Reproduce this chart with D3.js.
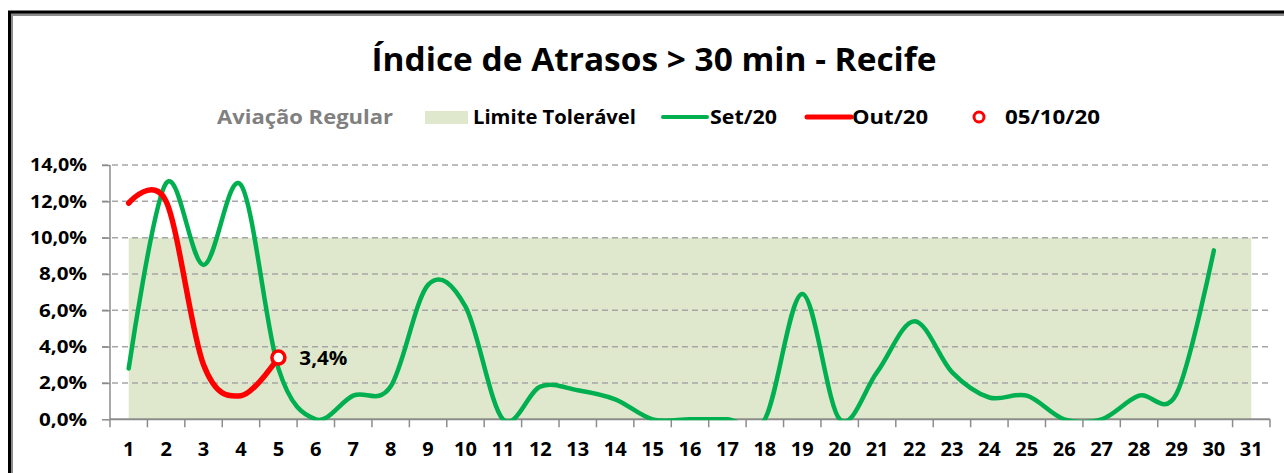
<!DOCTYPE html>
<html><head><meta charset="utf-8">
<script src="https://cdn.jsdelivr.net/npm/d3@7"></script>
<style>
html,body{margin:0;padding:0;background:#fff;}
svg{display:block;font-family:"Open Sans","Noto Sans",sans-serif;}
</style></head>
<body><svg id="c" width="1284" height="473"></svg>
<script>
const days = d3.range(1, 32);
const dayLabels = days.map(String);
const setValues = [2.8, 13.0, 8.5, 12.9, 2.8, 0.0, 1.3, 1.8, 7.4, 6.2, 0.0, 1.8, 1.6, 1.1, 0.0, 0.0, 0.0, 0.0, 6.9, 0.0, 2.6, 5.4, 2.6, 1.2, 1.3, 0.0, 0.0, 1.3, 1.4, 9.3, null];
const outValues = [11.9, 12.0, 3.0, 1.3, 3.4];
const limitValue = 10;
const yTicks = [0, 2, 4, 6, 8, 10, 12, 14];
const highlightDay = 5;
const highlightValue = 3.4;

const svg = d3.select("#c");
const W = 1284, H = 473;
const m = {left: 110, right: 1270, top: 165, bottom: 419.3};

// frame
svg.append("path").attr("d", `M11.5,${H+5} L11.5,14.5 L${W+5},14.5`).attr("fill","none").attr("stroke","#8c8c8c").attr("stroke-width",3);
svg.append("path").attr("d", `M9.5,${H+5} L9.5,12 L${W+5},12`).attr("fill","none").attr("stroke","#000").attr("stroke-width",3);

const x = d3.scaleBand().domain(dayLabels).range([m.left, m.right]).paddingInner(0).paddingOuter(0);
const cx = d => x(String(d)) + x.bandwidth()/2;
const y = d3.scaleLinear().domain([0, 14]).range([m.bottom, m.top]);

// title
svg.append("text").attr("x", 654).attr("y", 71).attr("text-anchor","middle")
  .attr("font-size", 32).attr("font-weight", 700).attr("fill","#000")
  .attr("textLength", 565).attr("lengthAdjust","spacingAndGlyphs")
  .text("Índice de Atrasos > 30 min - Recife");

// limit area
const area = d3.area().x(d => cx(d)).y0(y(0)).y1(y(limitValue));
svg.append("path").datum(days).attr("d", area).attr("fill", "#dfe8cc");

// gridlines
svg.append("g").selectAll("line").data(yTicks.filter(t => t > 0)).join("line")
  .attr("x1", 102).attr("x2", m.right).attr("y1", d => y(d)).attr("y2", d => y(d))
  .attr("stroke", "#a6a6a6").attr("stroke-width", 1.5).attr("stroke-dasharray", "6,4");

// y axis
const yAxis = d3.axisLeft(y).tickValues(yTicks).tickSize(8).tickPadding(15)
  .tickFormat(d => d3.format(".1f")(d).replace(".", ",") + "%");
const gy = svg.append("g").attr("transform", `translate(${m.left},0)`).call(yAxis);
gy.select(".domain").attr("stroke", "#8c8c8c").attr("stroke-width", 1.5).attr("d", `M0,${m.bottom}V${m.top}`);
gy.selectAll(".tick line").attr("stroke", "#8c8c8c").attr("stroke-width", 1.5);
gy.selectAll(".tick text").attr("font-size", 18.5).attr("font-weight", 700).attr("fill", "#000")
  .attr("font-family", "'Open Sans',sans-serif").attr("textLength", 57).attr("lengthAdjust","spacingAndGlyphs");
gy.selectAll(".tick").filter(d => d < 10).selectAll("text").attr("textLength", 48);

// x axis
const xAxis = d3.axisBottom(x).tickSize(0).tickPadding(23);
const gx = svg.append("g").attr("transform", `translate(0,${m.bottom})`).call(xAxis);
gx.select(".domain").attr("stroke", "#8c8c8c").attr("stroke-width", 2).attr("d", `M${m.left},0H${m.right}`);
gx.selectAll(".tick text").attr("font-size", 20).attr("font-weight", 700).attr("fill", "#000")
  .attr("font-family", "'Open Sans',sans-serif");
const bounds = dayLabels.map(d => x(d)).concat([m.right]);
svg.append("g").selectAll("line").data(bounds).join("line")
  .attr("x1", d => d).attr("x2", d => d).attr("y1", m.bottom).attr("y2", m.bottom + 8)
  .attr("stroke", "#8c8c8c").attr("stroke-width", 1.5);

// clip
svg.append("clipPath").attr("id","plot").append("rect")
  .attr("x", m.left).attr("y", m.top - 20).attr("width", m.right - m.left).attr("height", m.bottom - m.top + 21);

const line = d3.line().defined(d => d.v != null).x(d => cx(d.d)).y(d => y(d.v)).curve(d3.curveCatmullRom.alpha(0));
const setData = days.map((d, i) => ({d, v: setValues[i]}));
const outData = outValues.map((v, i) => ({d: days[i], v}));

svg.append("path").datum(setData).attr("d", line).attr("clip-path","url(#plot)")
  .attr("fill","none").attr("stroke","#00b050").attr("stroke-width",4.5).attr("stroke-linecap","round");
svg.append("path").datum(outData).attr("d", line).attr("clip-path","url(#plot)")
  .attr("fill","none").attr("stroke","#ff0000").attr("stroke-width",5.5).attr("stroke-linecap","round");

// highlight marker
svg.append("circle").attr("cx", cx(highlightDay)).attr("cy", y(highlightValue)).attr("r", 6.5)
  .attr("fill","#fff").attr("stroke","#ff0000").attr("stroke-width",3.5);
svg.append("text").attr("x", cx(highlightDay) + 21).attr("y", y(highlightValue) + 7)
  .attr("font-size", 20).attr("font-weight", 700).attr("fill","#000")
  .attr("textLength", 48).attr("lengthAdjust","spacingAndGlyphs")
  .text(d3.format(".1f")(highlightValue).replace(".", ",") + "%");

// legend
const ly = 117;
const lg = svg.append("g").attr("font-size", 19.5).attr("font-weight", 700);
lg.append("text").attr("x", 217).attr("y", ly + 7).attr("fill", "#808080")
  .attr("textLength", 176).attr("lengthAdjust","spacingAndGlyphs").text("Aviação Regular");
lg.append("rect").attr("x", 425).attr("y", 111).attr("width", 43).attr("height", 13).attr("fill", "#dfe8cc");
lg.append("text").attr("x", 473).attr("y", ly + 7).attr("fill", "#000")
  .attr("textLength", 163).attr("lengthAdjust","spacingAndGlyphs").text("Limite Tolerável");
lg.append("line").attr("x1", 663).attr("x2", 707).attr("y1", ly).attr("y2", ly)
  .attr("stroke", "#00b050").attr("stroke-width", 4).attr("stroke-linecap","round");
lg.append("text").attr("x", 710).attr("y", ly + 7).attr("fill", "#000")
  .attr("textLength", 67).attr("lengthAdjust","spacingAndGlyphs").text("Set/20");
lg.append("line").attr("x1", 807).attr("x2", 851).attr("y1", ly).attr("y2", ly)
  .attr("stroke", "#ff0000").attr("stroke-width", 5).attr("stroke-linecap","round");
lg.append("text").attr("x", 852).attr("y", ly + 7).attr("fill", "#000")
  .attr("textLength", 76).attr("lengthAdjust","spacingAndGlyphs").text("Out/20");
lg.append("circle").attr("cx", 979).attr("cy", ly).attr("r", 5)
  .attr("fill", "#fff").attr("stroke", "#ff0000").attr("stroke-width", 3);
lg.append("text").attr("x", 1005).attr("y", ly + 7).attr("fill", "#000")
  .attr("textLength", 95).attr("lengthAdjust","spacingAndGlyphs").text("05/10/20");
</script></body></html>
